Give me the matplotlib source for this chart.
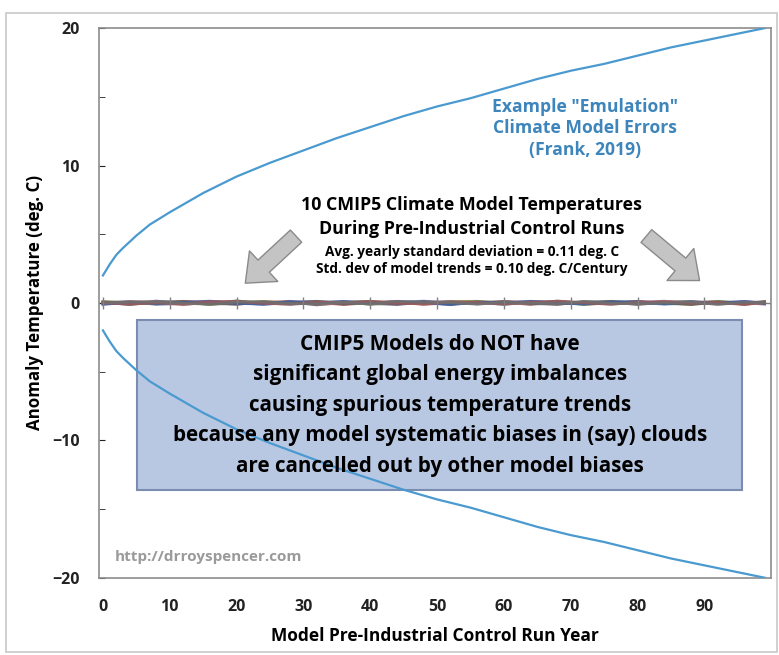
import matplotlib.pyplot as plt
import matplotlib.patches as mpatches

plt.rcParams['font.family'] = ['Open Sans', 'DejaVu Sans']
plt.rcParams['font.weight'] = 'bold'

# Envelope de erro "emulação" (Frank, 2019)
anos_env = [0, 1, 2, 3, 5, 7, 10, 15, 20, 25, 30, 35, 40, 45, 50, 55, 60, 65, 70, 75, 80, 85, 90, 95, 99]
env_sup = [2.0, 2.8, 3.5, 4.0, 4.9, 5.7, 6.6, 8.0, 9.2, 10.2, 11.1, 12.0, 12.8, 13.6, 14.3,
           14.9, 15.6, 16.3, 16.9, 17.4, 18.0, 18.6, 19.1, 19.6, 20.0]
env_inf = [-2.0, -2.8, -3.5, -4.0, -4.9, -5.7, -6.6, -8.0, -9.2, -10.2, -11.1, -12.0, -12.8, -13.6, -14.3,
           -14.9, -15.6, -16.3, -16.9, -17.4, -18.0, -18.6, -19.1, -19.6, -20.0]

# 10 modelos CMIP5 (controlo pré-industrial), anomalias pequenas
anos_mod = [0, 4, 8, 12, 16, 20, 24, 28, 32, 36, 40, 44, 48, 52, 56, 60, 64, 68, 72, 76, 80, 84, 88, 92, 96, 99]
modelos = [
    [0.05, -0.12, 0.10, 0.02, -0.08, 0.15, -0.05, 0.08, -0.14, 0.04, 0.12, -0.06, 0.02, -0.10, 0.09, 0.03, -0.07, 0.14, -0.02, 0.06, -0.11, 0.05, 0.10, -0.04, 0.07, -0.02],
    [-0.08, 0.06, -0.03, 0.12, 0.04, -0.10, 0.09, -0.02, 0.05, -0.12, 0.03, 0.10, -0.08, 0.06, -0.04, 0.11, 0.02, -0.09, 0.08, -0.05, 0.12, -0.03, 0.04, 0.09, -0.10, 0.05],
    [0.02, 0.09, -0.10, -0.04, 0.11, 0.03, -0.12, 0.06, 0.10, 0.02, -0.07, 0.04, 0.13, -0.02, 0.05, -0.11, 0.08, 0.01, -0.06, 0.12, 0.04, -0.09, 0.02, 0.07, 0.03, -0.06],
    [-0.03, -0.06, 0.14, -0.09, 0.02, 0.07, 0.01, -0.11, 0.03, 0.09, -0.04, -0.12, 0.06, 0.11, -0.07, 0.04, 0.10, -0.03, 0.05, -0.08, 0.02, 0.13, -0.06, 0.01, 0.09, 0.04],
    [0.10, 0.02, -0.07, 0.08, -0.12, 0.05, 0.11, -0.06, 0.01, 0.07, -0.10, 0.03, -0.04, 0.09, 0.12, -0.05, 0.03, 0.06, -0.12, 0.02, 0.08, -0.04, -0.10, 0.12, -0.03, 0.08],
    [-0.05, 0.11, 0.04, -0.13, 0.07, -0.02, 0.05, 0.12, -0.09, -0.03, 0.08, 0.06, -0.11, 0.02, -0.03, 0.07, -0.12, 0.09, 0.04, -0.01, -0.07, 0.10, 0.05, -0.08, 0.02, -0.09],
    [0.07, -0.02, 0.06, 0.10, -0.05, -0.08, 0.03, 0.02, 0.12, -0.07, 0.05, -0.09, 0.10, -0.06, 0.01, 0.09, -0.04, -0.10, 0.07, 0.11, -0.02, 0.03, -0.12, 0.06, -0.07, 0.10],
    [-0.10, 0.04, -0.05, 0.03, 0.13, -0.04, -0.07, 0.10, -0.02, 0.11, -0.01, 0.08, 0.03, -0.13, 0.06, -0.02, 0.12, 0.04, -0.09, 0.03, 0.10, -0.06, 0.08, -0.02, 0.11, -0.04],
    [0.03, -0.09, 0.01, -0.06, 0.09, 0.11, -0.03, -0.08, 0.07, 0.01, 0.10, -0.02, -0.06, 0.08, 0.04, -0.09, 0.06, 0.11, 0.01, -0.10, 0.05, 0.08, -0.03, 0.04, -0.12, 0.06],
    [-0.02, 0.07, 0.08, -0.01, -0.10, 0.06, 0.08, -0.04, -0.06, 0.05, -0.08, 0.12, 0.05, 0.03, -0.09, 0.06, -0.01, -0.05, 0.11, -0.03, -0.05, 0.01, 0.07, -0.11, 0.05, 0.01],
]
cores_mod = ['#4d4d4d', '#a05252', '#5a6fa8', '#8a6d9e', '#7a8a4a',
             '#b07070', '#606060', '#3f5fa0', '#9a5a5a', '#707070']

x_ticks = [0, 10, 20, 30, 40, 50, 60, 70, 80, 90]
y_ticks = [-20, -10, 0, 10, 20]

fig = plt.figure(figsize=(7.79, 6.55), dpi=100)
ax = fig.add_axes([0.127, 0.118, 0.863, 0.839])

# Moldura exterior do gráfico
fig.patches.append(mpatches.Rectangle((0.008, 0.005), 0.99, 0.975, transform=fig.transFigure,
                                      fill=False, edgecolor='#c8c8c8', linewidth=1.2))

ax.plot(anos_env, env_sup, color='#4a9ad0', linewidth=1.6, zorder=5)
ax.plot(anos_env, env_inf, color='#4a9ad0', linewidth=1.6, zorder=5)

for serie, cor in zip(modelos, cores_mod):
    ax.plot(anos_mod, serie, color=cor, linewidth=2.0, alpha=0.85)

# Eixo horizontal no zero com marcas cruzadas
ax.axhline(0, color='#808080', linewidth=1.0, zorder=1)
ax.vlines(x_ticks + [100], -0.45, 0.45, color='#808080', linewidth=1.0)

ax.set_xlim(-0.6, 100)
ax.set_ylim(-20, 20)
ax.set_xticks(x_ticks)
ax.set_yticks(y_ticks)
ax.set_yticks([-15, -5, 5, 15], minor=True)
ax.tick_params(axis='x', length=0, labelsize=11.5, pad=15, colors='#222222')
ax.tick_params(axis='y', which='both', direction='in', length=4, labelsize=11.5, colors='#222222', pad=14)
for lab in ax.get_xticklabels() + ax.get_yticklabels():
    lab.set_fontweight('bold')
for s in ax.spines.values():
    s.set_color('#8c8c8c')
    s.set_linewidth(1.2)

ax.set_xlabel("Model Pre-Industrial Control Run Year", fontsize=12.5, fontweight='bold', labelpad=9)
ax.set_ylabel("Anomaly Temperature (deg. C)", fontsize=12.2, fontweight='bold', labelpad=6)

# Anotações
ax.text(72.1, 12.7, 'Example "Emulation"\nClimate Model Errors\n(Frank, 2019)', color='#3d85bb',
        fontsize=12.6, fontweight='bold', ha='center', va='center', linespacing=1.25)

ax.text(55.2, 6.24, "10 CMIP5 Climate Model Temperatures\nDuring Pre-Industrial Control Runs",
        fontsize=12.8, fontweight='bold', ha='center', va='center', linespacing=1.43)
ax.text(55.2, 3.1, "Avg. yearly standard deviation = 0.11 deg. C\nStd. dev of model trends = 0.10 deg. C/Century",
        fontsize=9.8, fontweight='bold', ha='center', va='center', linespacing=1.3)

caixa = mpatches.Rectangle((5.1, -13.6), 90.6, 12.35, facecolor='#b9c8e2', edgecolor='#7a8db0',
                           linewidth=1.5, zorder=3)
ax.add_patch(caixa)
ax.text(50.4, -7.45, "CMIP5 Models do NOT have\nsignificant global energy imbalances\n"
        "causing spurious temperature trends\nbecause any model systematic biases in (say) clouds\n"
        "are cancelled out by other model biases",
        fontsize=14.9, fontweight='bold', ha='center', va='center', linespacing=1.6, zorder=6)

ax.text(1.8, -18.5, "http://drroyspencer.com", color='#9a9a9a', fontsize=11, fontweight='bold',
        ha='left', va='center')

seta = dict(arrowstyle='simple,head_width=1.5,head_length=0.9,tail_width=0.6',
            facecolor='#c4c4c4', edgecolor='#8a8a8a', linewidth=1.0, mutation_scale=20)
ax.annotate('', xy=(21.0, 1.3), xytext=(29.2, 5.0), arrowprops=seta)
ax.annotate('', xy=(89.6, 1.5), xytext=(81.0, 5.0), arrowprops=seta)

plt.savefig("out.png", dpi=100)
